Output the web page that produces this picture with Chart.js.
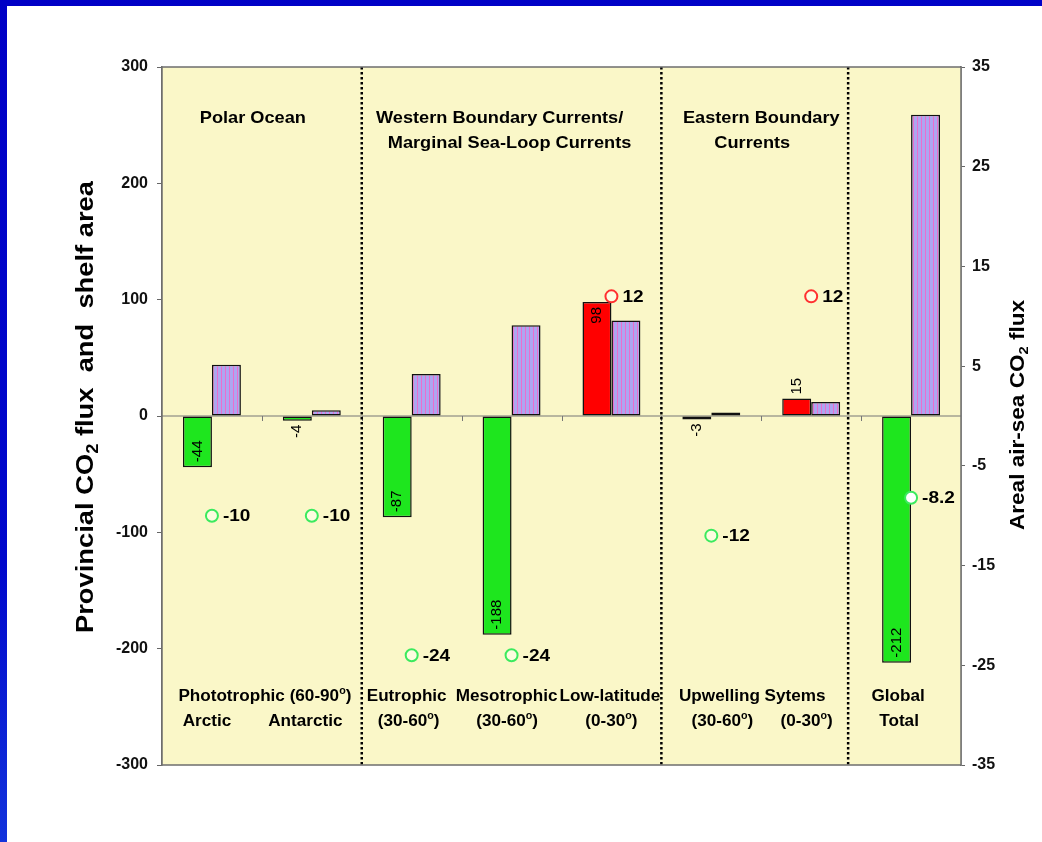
<!DOCTYPE html>
<html>
<head>
<meta charset="utf-8">
<script src="https://cdn.jsdelivr.net/npm/chart.js@4.4.1/dist/chart.umd.min.js"></script>
<style>
  html, body { margin: 0; padding: 0; }
  body {
    width: 1042px; height: 842px; overflow: hidden; position: relative;
    background: linear-gradient(170deg, #0000c6 0%, #0008cc 55%, #1f4fe6 100%);
  }
  #slide { position: absolute; left: 7px; top: 6px; width: 1035px; height: 836px; background: #fff; }
  canvas { display: block; }
</style>
</head>
<body>
<div id="slide"><canvas id="chart" width="1035" height="836"></canvas></div>
<script>
// data
const categories = ['Arctic', 'Antarctic', 'Eutrophic', 'Mesotrophic', 'Low-latitude', 'Upwelling 30-60', 'Upwelling 0-30', 'Global Total'];
const provincialFlux = [-44, -4, -87, -188, 98, -3, 15, -212];   // left axis
const shelfArea = [44, 5, 36, 78, 82, 3, 12, 259];               // left axis
const arealFlux = [-10, -10, -24, -24, 12, -12, 12, -8.2];       // right axis
const leftRange = [-300, 300];
const rightRange = [-35, 35];

const FONT = 'Arial, "Liberation Sans", sans-serif';
const STRETCH = 1.07; // the slide text is a little wide

const canvas = document.getElementById('chart');
const ctx = canvas.getContext('2d');

// lavender bars with thin pink vertical stripes
const stripeTile = document.createElement('canvas');
stripeTile.width = 4; stripeTile.height = 4;
const st = stripeTile.getContext('2d');
st.fillStyle = '#ADA6F0'; st.fillRect(0, 0, 4, 4);
st.fillStyle = '#EA6ECE'; st.fillRect(2, 0, 1, 4);
const stripePattern = ctx.createPattern(stripeTile, 'repeat');

// "CO_2" -> subscript 2, "^o" -> superscript o
function parseRich(str) {
  return str.split(/([_^].)/).filter(s => s).map(s => {
    if (s[0] === '_') return { t: s[1], s: 'sub' };
    if (s[0] === '^') return { t: s[1], s: 'sup' };
    return { t: s };
  });
}

// draws centred text; fit = target length in px (or a plain stretch factor if < 5)
function richText(c, str, x, y, size, weight, rot, fit) {
  const parts = parseRich(str);
  const fontFor = p => `${weight} ${p.s ? Math.round(size * 0.65) : size}px ${FONT}`;
  c.save();
  c.translate(x, y);
  if (rot) c.rotate(rot);
  let total = 0;
  parts.forEach(p => { c.font = fontFor(p); total += c.measureText(p.t).width; });
  if (fit) c.scale(fit < 5 ? fit : fit / total, 1);
  let cx = -total / 2;
  c.textAlign = 'left';
  c.textBaseline = 'middle';
  c.fillStyle = '#000';
  parts.forEach(p => {
    c.font = fontFor(p);
    const dy = p.s === 'sub' ? size * 0.3 : p.s === 'sup' ? -size * 0.38 : 0;
    c.fillText(p.t, cx, dy);
    cx += c.measureText(p.t).width;
  });
  c.restore();
}

// text placed in category units (x) and left-axis units (y)
const headings = [
  ['Polar Ocean', 0.41, 256],
  ['Western Boundary Currents/', 2.88, 256],
  ['Marginal Sea-Loop Currents', 2.98, 234.5],
  ['Eastern Boundary', 5.5, 256],
  ['Currents', 5.41, 234.5]
];
const groupLabels = [
  ['Phototrophic (60-90^o)', 0.53, -241.5],
  ['Arctic', -0.05, -263],
  ['Antarctic', 0.935, -263],
  ['Eutrophic', 1.95, -241.5],
  ['(30-60^o)', 1.97, -263],
  ['Mesotrophic', 2.95, -241.5],
  ['(30-60^o)', 2.955, -263],
  ['Low-latitude', 3.985, -241.5],
  ['(0-30^o)', 4.0, -263],
  ['Upwelling Sytems', 5.41, -241.5],
  ['(30-60^o)', 5.11, -263],
  ['(0-30^o)', 5.955, -263],
  ['Global', 6.87, -241.5],
  ['Total', 6.88, -263]
];
const separators = [1.5, 4.5, 6.37];

const decorations = {
  id: 'decorations',
  beforeDatasetsDraw(chart) {
    const { ctx: c, chartArea: a, scales } = chart;
    // plot background
    c.save();
    c.fillStyle = '#FAF7C8';
    c.fillRect(a.left, a.top, a.right - a.left, a.bottom - a.top);
    // zero line + small category ticks
    const y0 = scales.y.getPixelForValue(0);
    c.strokeStyle = '#777';
    c.lineWidth = 1;
    c.beginPath();
    c.moveTo(a.left, y0); c.lineTo(a.right, y0);
    for (let i = 0; i < categories.length - 1; i++) {
      const x = Math.round(scales.x.getPixelForValue(i + 0.5)) + 0.5;
      c.moveTo(x, y0); c.lineTo(x, y0 + 5);
    }
    c.stroke();
    // dotted separators
    c.strokeStyle = '#000';
    c.lineWidth = 2.5;
    c.setLineDash([2.5, 2.5]);
    separators.forEach(v => {
      const x = scales.x.getPixelForValue(v);
      c.beginPath(); c.moveTo(x, a.top); c.lineTo(x, a.bottom); c.stroke();
    });
    c.restore();
  },
  afterDatasetsDraw(chart) {
    const { ctx: c, chartArea: a, scales } = chart;
    c.save();
    // plot border
    c.strokeStyle = '#6E6E6E';
    c.lineWidth = 1.5;
    c.strokeRect(a.left, a.top, a.right - a.left, a.bottom - a.top);

    // bar value labels, rotated
    const bars = chart.getDatasetMeta(0).data;
    c.font = `15px ${FONT}`;
    c.fillStyle = '#000';
    c.textAlign = 'center';
    c.textBaseline = 'middle';
    bars.forEach((el, i) => {
      const v = provincialFlux[i];
      const txt = String(v);
      const w = c.measureText(txt).width;
      const h = Math.abs(el.base - el.y);
      const neg = v < 0;
      let cy;
      if (h > 30) cy = neg ? el.y - 5 - w / 2 : el.y + 5 + w / 2;
      else cy = neg ? el.y + 4 + w / 2 : el.y - 4 - w / 2;
      c.save();
      c.translate(el.x, cy);
      c.rotate(-Math.PI / 2);
      c.fillText(txt, 0, 0);
      c.restore();
    });

    // circle labels
    const pts = chart.getDatasetMeta(2).data;
    pts.forEach((p, i) => {
      c.save();
      c.translate(p.x + 11, p.y + 1);
      c.scale(STRETCH + 0.05, 1);
      c.font = `bold 17px ${FONT}`;
      c.textAlign = 'left';
      c.fillText(String(arealFlux[i]), 0, 0);
      c.restore();
    });

    // headings and category text
    headings.forEach(([t, xv, yv]) =>
      richText(c, t, scales.x.getPixelForValue(xv), scales.y.getPixelForValue(yv), 17, 'bold', 0, STRETCH));
    groupLabels.forEach(([t, xv, yv]) =>
      richText(c, t, scales.x.getPixelForValue(xv), scales.y.getPixelForValue(yv), 16, 'bold', 0, STRETCH));

    // axis titles
    richText(c, 'Provincial CO_2 flux  and  shelf area', a.left - 76, (a.top + a.bottom) / 2 - 9, 24, 'bold', -Math.PI / 2, 452);
    richText(c, 'Areal air-sea CO_2 flux', a.right + 57, scales.y2.getPixelForValue(0) - 1, 20, 'bold', -Math.PI / 2, 230);
    c.restore();
  }
};

new Chart(ctx, {
  type: 'bar',
  data: {
    labels: categories,
    datasets: [
      {
        label: 'Provincial CO2 flux',
        data: provincialFlux,
        backgroundColor: provincialFlux.map(v => (v < 0 ? '#1EE61E' : '#FF0000')),
        borderColor: '#111',
        borderWidth: 1.5,
        borderSkipped: false,
        categoryPercentage: 0.58,
        barPercentage: 1,
        yAxisID: 'y',
        order: 1
      },
      {
        label: 'Shelf area',
        data: shelfArea,
        backgroundColor: stripePattern,
        borderColor: '#111',
        borderWidth: 1.5,
        borderSkipped: false,
        categoryPercentage: 0.58,
        barPercentage: 1,
        yAxisID: 'y',
        order: 1
      },
      {
        type: 'line',
        label: 'Areal air-sea CO2 flux',
        data: arealFlux,
        showLine: false,
        yAxisID: 'y2',
        pointRadius: 6,
        pointBorderWidth: 2,
        pointBorderColor: arealFlux.map(v => (v < 0 ? '#3BEA5E' : '#FF3030')),
        pointBackgroundColor: arealFlux.map((v, i) => (i === arealFlux.length - 1 ? '#FFFFFF' : 'rgba(255,255,240,0.6)')),
        order: 0
      }
    ]
  },
  options: {
    responsive: false,
    animation: false,
    devicePixelRatio: 1,
    layout: { padding: { top: 61, bottom: 77, left: 0, right: 0 } },
    plugins: { legend: { display: false }, tooltip: { enabled: false } },
    scales: {
      x: { display: false, offset: true },
      y: {
        position: 'left',
        min: leftRange[0],
        max: leftRange[1],
        afterFit: s => { s.width = 155; },
        ticks: { stepSize: 100, color: '#111', padding: 9, font: { family: FONT, size: 16, weight: 'bold' } },
        grid: { drawOnChartArea: false, tickLength: 5, tickColor: '#666', tickWidth: 1 },
        border: { display: true, color: '#6E6E6E', width: 1.5 }
      },
      y2: {
        position: 'right',
        min: rightRange[0],
        max: rightRange[1],
        afterFit: s => { s.width = 81; },
        ticks: { stepSize: 10, color: '#111', padding: 7, font: { family: FONT, size: 16, weight: 'bold' } },
        grid: { drawOnChartArea: false, tickLength: 4, tickColor: '#666', tickWidth: 1 },
        border: { display: true, color: '#6E6E6E', width: 1.5 }
      }
    }
  },
  plugins: [decorations]
});
</script>
</body>
</html>
